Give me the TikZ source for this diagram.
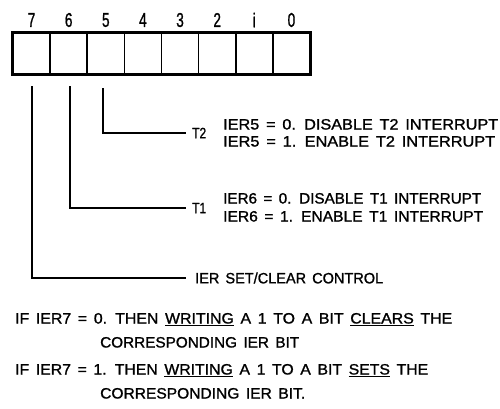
\documentclass[tikz,border=0pt]{standalone}
\usepackage{fontspec}
\setmainfont{Liberation Sans}[FakeBold=1.2]
\usepackage{graphicx}
\newcommand\fitw[2]{\resizebox{#1pt}{\height}{\spaceskip=0.42em\relax #2}}
\begin{document}
\begin{tikzpicture}[x=1pt,y=-1pt,
  cell/.style={draw,line width=1.6pt,minimum width=37.125pt,minimum height=41pt,inner sep=0pt},
  digit/.style={inner sep=0pt,font=\fontsize{20}{21}\selectfont},
  txt/.style={inner sep=0pt,anchor=base west,font=\fontsize{15}{17}\selectfont},
  lbl/.style={inner ysep=0pt,inner xsep=6pt,anchor=west,font=\fontsize{15}{17}\selectfont},
  conn/.style={line width=1.5pt}]
\useasboundingbox (0,0) rectangle (500,408);
\fill[white] (0,0) rectangle (500,408);
% register
\foreach \b/\t [count=\k from 0] in {7/7,6/6,5/5,4/4,3/3,2/2,1/i,0/0} {
  \node[cell] (b\b) at ({13+37.125*(\k+0.5)},53.5) {};
  \node[digit] (n\b) at ({13+37.125*(\k+0.5)},20) {\scalebox{0.68}[1]{\t}};
}
\draw[line width=2.6pt] (b7.north west) rectangle (b0.south east);
% connector start points
\coordinate (s7) at (32,86);
\coordinate (s6) at (70,86);
\coordinate (s5) at (103,88);
% labels
\node[lbl] (t2) at (186,133) {\scalebox{0.8}[1]{T2}};
\node[lbl] (t1) at (186,208) {\scalebox{0.8}[1]{T1}};
\node[lbl,inner xsep=9pt] (sc) at (186,278) {\fitw{188}{IER SET/CLEAR CONTROL}};
\draw[conn] (s5) |- (t2.west);
\draw[conn] (s6) |- (t1.west);
\draw[conn] (s7) |- (sc.west);
% descriptions
\node[txt] (e50) at (223,129.5) {\fitw{275}{IER5 = 0. DISABLE T2 INTERRUPT}};
\node[txt] (e51) at (223,146.5) {\fitw{272}{IER5 = 1. ENABLE T2 INTERRUPT}};
\node[txt] (e60) at (223,203.5) {\fitw{258}{IER6 = 0. DISABLE T1 INTERRUPT}};
\node[txt] (e61) at (223,221.5) {\fitw{260}{IER6 = 1. ENABLE T1 INTERRUPT}};
\node[txt] (r1) at (15,323.5) {\fitw{437}{IF IER7 = 0. THEN \underline{WRITING} A 1 TO A BIT \underline{CLEARS} THE}};
\node[txt] (r2) at (100,347.5) {\fitw{199}{CORRESPONDING IER BIT}};
\node[txt] (r3) at (15,374.5) {\fitw{413}{IF IER7 = 1. THEN \underline{WRITING} A 1 TO A BIT \underline{SETS} THE}};
\node[txt] (r4) at (100,398.5) {\fitw{205}{CORRESPONDING IER BIT.}};
\end{tikzpicture}
\end{document}
